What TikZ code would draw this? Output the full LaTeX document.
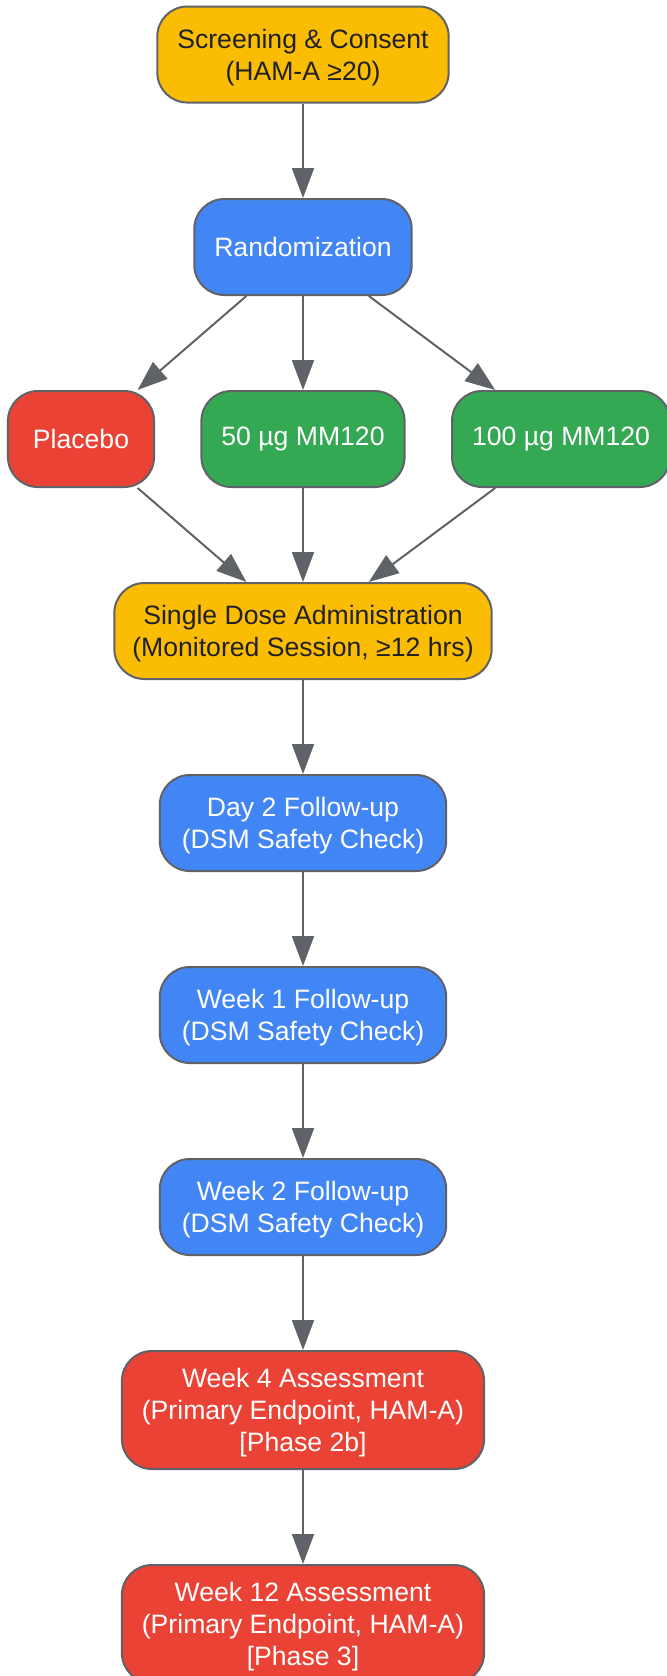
\documentclass[tikz,border=0pt]{standalone}
\usepackage{fontspec}
\setmainfont{Liberation Sans}
\usetikzlibrary{arrows.meta}

\definecolor{gyellow}{HTML}{FBBC04}
\definecolor{gblue}{HTML}{4285F4}
\definecolor{gred}{HTML}{EA4335}
\definecolor{ggreen}{HTML}{34A853}
\definecolor{gline}{HTML}{5F6368}
\definecolor{gtext}{HTML}{202124}

\tikzset{
  stepbox/.style={draw=gline, line width=1pt, rounded corners=15pt,
    minimum height=48pt, inner xsep=10pt, inner ysep=5pt, align=center,
    font=\fontsize{13.3}{16}\selectfont},
  multiline/.style={text depth=0pt},
  yellowbox/.style={stepbox, fill=gyellow, text=gtext},
  bluebox/.style={stepbox, fill=gblue, text=white},
  redbox/.style={stepbox, fill=gred, text=white},
  greenbox/.style={stepbox, fill=ggreen, text=white},
  flow/.style={draw=gline, line width=1pt,
    -{Triangle[length=15pt, width=11pt]}}
}

\begin{document}
\begin{tikzpicture}[x=0.5pt, y=-0.5pt]
            \useasboundingbox (0,0) rectangle (667,1676);

            % Screening node
            \node [yellowbox, multiline] (screen) at (303,54.5) {Screening \& Consent\\(HAM-A ≥20)};

            % Randomization node
            \node [bluebox] (rand) at (303,247) {Randomization};

            % Arms of the trial
            \node [redbox, inner xsep=12.5pt] (placebo) at (81,439) {Placebo};
            \node [greenbox] (low) at (303,439) {50 µg MM120};
            \node [greenbox] (high) at (561,439) {100 µg MM120};

            % Dosing node
            \node [yellowbox, multiline, inner xsep=9pt] (dose) at (303,631) {Single Dose Administration\\(Monitored Session, ≥12 hrs)};

            % Follow-up nodes
            \node [bluebox, multiline, inner xsep=11pt] (day2) at (303,823) {Day 2 Follow-up\\(DSM Safety Check)};
            \node [bluebox, multiline, inner xsep=11pt] (week1) at (303,1015) {Week 1 Follow-up\\(DSM Safety Check)};
            \node [bluebox, multiline, inner xsep=11pt] (week2) at (303,1207) {Week 2 Follow-up\\(DSM Safety Check)};

            % Assessment nodes
            \node [redbox, multiline, minimum height=59pt] (week4) at (303,1410) {Week 4 Assessment\\(Primary Endpoint, HAM-A)\\{}[Phase 2b]};
            \node [redbox, multiline, minimum height=59pt] (week12) at (303,1624) {Week 12 Assessment\\(Primary Endpoint, HAM-A)\\{}[Phase 3]};

            % Drawing connectors
            \draw [flow] (screen) -- (rand);
            \draw [flow] (rand) -- (placebo);
            \draw [flow] (rand) -- (low);
            \draw [flow] (rand) -- (high);
            \draw [flow] (placebo) -- (dose);
            \draw [flow] (low) -- (dose);
            \draw [flow] (high) -- (dose);
            \draw [flow] (dose) -- (day2);
            \draw [flow] (day2) -- (week1);
            \draw [flow] (week1) -- (week2);
            \draw [flow] (week2) -- (week4);
            \draw [flow] (week4) -- (week12);
\end{tikzpicture}
\end{document}
